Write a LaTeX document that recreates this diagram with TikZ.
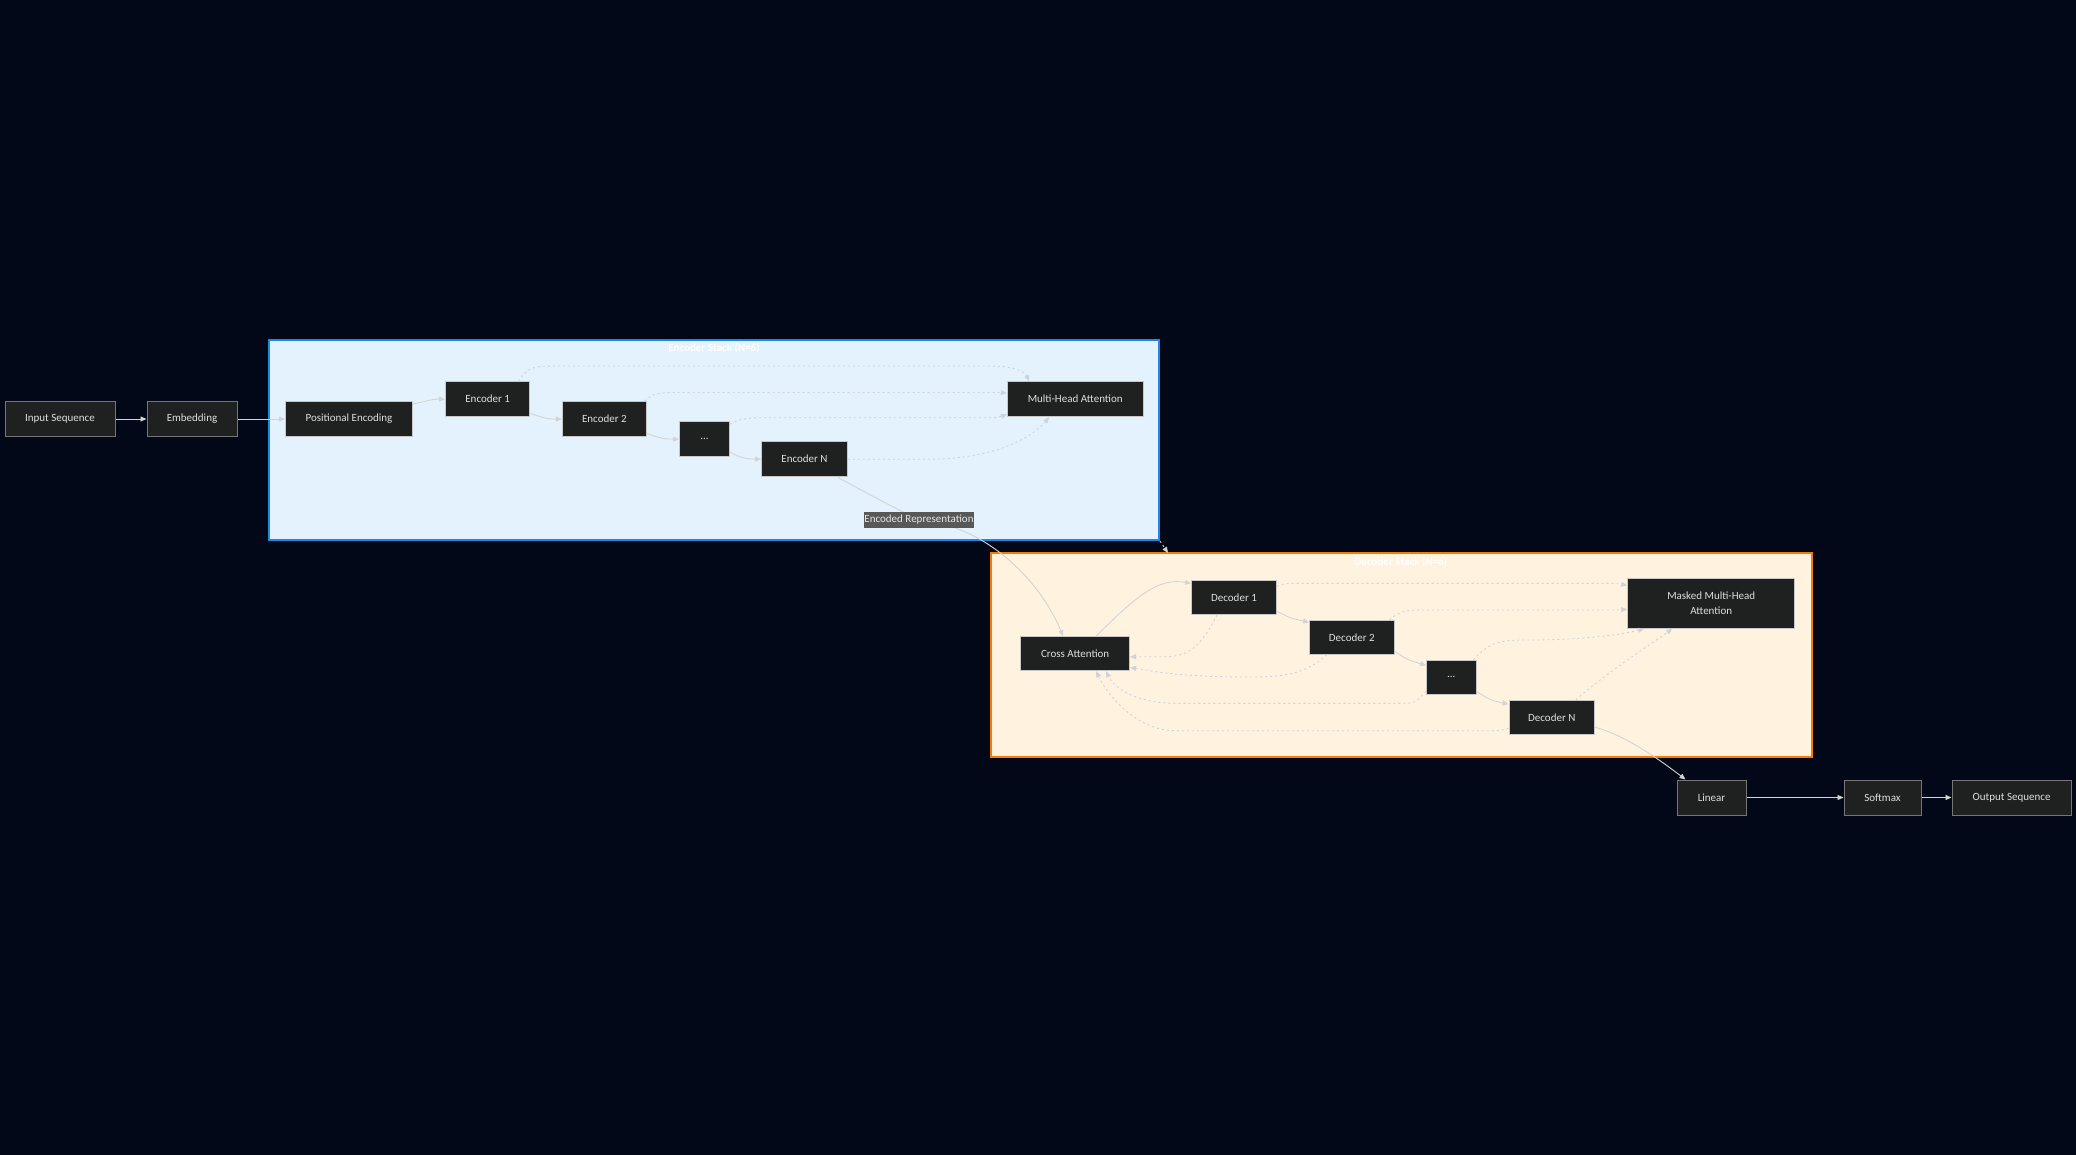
\documentclass[tikz,border=0pt]{standalone}
\usepackage{fontspec}
\setmainfont{Carlito}
\usepackage{xcolor}
\definecolor{bgnavy}{RGB}{2,8,23}
\definecolor{nodefill}{RGB}{31,32,32}
\definecolor{nodeline}{RGB}{200,200,200}
\definecolor{outline}{RGB}{118,118,118}
\definecolor{nodetext}{RGB}{222,222,222}
\definecolor{encfill}{RGB}{227,242,253}
\definecolor{encline}{RGB}{30,136,229}
\definecolor{decfill}{RGB}{255,243,224}
\definecolor{decline}{RGB}{245,124,0}
\definecolor{edgegray}{RGB}{212,212,212}
\definecolor{dotgray}{RGB}{205,211,218}
\definecolor{lblfill}{RGB}{88,88,88}
\usetikzlibrary{arrows.meta, positioning}

\tikzset{
  box/.style={draw=nodeline, fill=nodefill, text=nodetext, line width=1pt,
    font=\fontsize{11}{13}\selectfont, minimum height=35pt, inner sep=2pt},
  outbox/.style={box, draw=outline},
  stack/.style={line width=2pt, inner sep=0pt},
  stacktitle/.style={text=white, font=\fontsize{11}{13}\selectfont\bfseries},
  link/.style={draw=edgegray, line width=0.9pt, -{Triangle[length=6pt,width=5pt]}},
  dotlink/.style={link, draw=dotgray, dash pattern=on 2pt off 3pt},
  lbl/.style={fill=lblfill, text=white!90!black, font=\fontsize{11}{13}\selectfont,
    inner xsep=0pt, inner ysep=1pt, minimum height=16pt}
}

\begin{document}
\begin{tikzpicture}[x=1pt, y=-1pt]
  % Canvas
  \fill[bgnavy] (0,0) rectangle (2076,1155);
  \useasboundingbox (0,0) rectangle (2076,1155);

  % Stack panels
  \node[stack, draw=encline, fill=encfill, minimum width=890pt, minimum height=200pt] (encstack) at (714,440) {};
  \node[stack, draw=decline, fill=decfill, minimum width=821pt, minimum height=204pt] (decstack) at (1401.5,655) {};
  \node[stacktitle] (enctitle) at (714,348) {Encoder Stack (N=6)};
  \node[stacktitle] (dectitle) at (1401,562) {Decoder Stack (N=6)};

  % --- Input side ---
  \node[outbox, minimum width=110pt] (insq) at (60,419) {Input Sequence};
  \node[outbox, minimum width=90pt] (embed) at (192,419) {Embedding};

  % --- Encoder stack ---
  \node[box, minimum width=127pt] (posenc) at (349,419) {Positional Encoding};
  \node[box, minimum width=84.5pt] (encone) at (487.7,399.2) {Encoder 1};
  \node[box, minimum width=84pt] (enctwo) at (604.4,419.2) {Encoder 2};
  \node[box, minimum width=50pt] (encdots) at (704.6,439.2) {...};
  \node[box, minimum width=85.6pt] (encN) at (804.5,459.2) {Encoder N};
  \node[box, minimum width=135.6pt] (mha) at (1075.2,399.2) {Multi-Head Attention};

  % --- Decoder stack ---
  \node[box, minimum width=109pt, minimum height=34pt] (crossatt) at (1075.1,653.7) {Cross Attention};
  \node[box, minimum width=85pt, minimum height=34pt] (decone) at (1234,597.3) {Decoder 1};
  \node[box, minimum width=84.5pt, minimum height=34pt] (dectwo) at (1351.8,637.3) {Decoder 2};
  \node[box, minimum width=49.4pt, minimum height=34pt] (decdots) at (1451.3,677.3) {...};
  \node[box, minimum width=85.6pt, minimum height=34pt] (decN) at (1551.8,717.3) {Decoder N};
  \node[box, minimum width=167pt, minimum height=50pt, align=center] (mmha) at (1711.2,603.3) {Masked Multi-Head\\[2pt]Attention};

  % --- Output side ---
  \node[outbox, minimum width=69pt] (linear) at (1711.5,797.5) {Linear};
  \node[outbox, minimum width=77pt] (softmax) at (1882.5,797.5) {Softmax};
  \node[outbox, minimum width=119pt] (outsq) at (2011.5,797.5) {Output Sequence};

  % Straight links
  \draw[link] (insq) -- (embed);
  \draw[link] (embed) -- (posenc);
  \draw[link] (linear) -- (softmax);
  \draw[link] (softmax) -- (outsq);

  % Encoder chain
  \draw[link] ([yshift=15pt]posenc.east) .. controls (428,401) and (432,399) .. (encone.west);
  \draw[link] ([yshift=-14pt]encone.east) .. controls (545,419) and (550,419) .. (enctwo.west);
  \draw[link] ([yshift=-14pt]enctwo.east) .. controls (660,439) and (668,439) .. (encdots.west);
  \draw[link] ([yshift=-13pt]encdots.east) .. controls (742,459) and (750,459) .. (encN.west);

  % Encoder layers to attention
  \draw[dotlink] ([xshift=-12pt]encone.north east) .. controls (528,366) and (535,366) .. (560,366)
    -- (990,366) .. controls (1015,366) and (1025,372) .. ([xshift=-46pt]mha.north);
  \draw[dotlink] ([xshift=-2pt]enctwo.north east) .. controls (652,393) and (660,392.5) .. (680,392.5)
    -- (990,392.5) .. controls (1000,392.5) .. ([yshift=6pt]mha.west);
  \draw[dotlink] ([yshift=-3pt]encdots.north east) .. controls (740,418) and (750,417.7) .. (770,417.7)
    -- (990,417.7) .. controls (1000,417) .. ([yshift=-15pt]mha.west);
  \draw[dotlink] (encN.east) -- (930,459.2) .. controls (990,459) and (1030,440) .. ([xshift=-26pt]mha.south);

  % Encoder output into decoder
  \draw[link] ([xshift=-10pt]encN.south east) .. controls (870,495) .. (919,520)
    node[lbl] (encrep) {Encoded Representation}
    .. controls (985,525) and (1040,580) .. ([xshift=-12pt]crossatt.north);
  \coordinate (dectop) at (1168,553);
  \draw[dotlink, draw=edgegray] (encstack.south east) -- (dectop);

  % Decoder chain
  \draw[link] ([xshift=21pt]crossatt.north) .. controls (1140,592) and (1160,578) .. ([yshift=14pt]decone.west);
  \draw[link] ([yshift=-14pt]decone.east) .. controls (1290,618) .. ([yshift=15pt]dectwo.west);
  \draw[link] ([yshift=-14pt]dectwo.east) .. controls (1408,660) .. ([yshift=12pt]decdots.west);
  \draw[link] ([yshift=-14pt]decdots.east) .. controls (1490,700) .. ([yshift=13pt]decN.west);

  % Decoder layers to masked attention
  \draw[dotlink] ([yshift=11pt]decone.east) .. controls (1285,583.3) .. (1300,583.3)
    -- (1600,583.3) .. controls (1615,583.3) .. ([yshift=18pt]mmha.west);
  \draw[dotlink] ([xshift=-5pt]dectwo.north east) .. controls (1400,610) and (1410,610) .. (1425,610)
    -- (1600,610) .. controls (1615,610) .. ([yshift=-6pt]mmha.west);
  \draw[dotlink] ([xshift=-3pt]decdots.north east) .. controls (1490,640) and (1505,640) .. (1530,640)
    .. controls (1580,640) and (1620,635) .. ([xshift=-67pt]mmha.south);
  \draw[dotlink] ([xshift=24pt]decN.north) .. controls (1610,670) and (1650,645) .. ([xshift=-39pt]mmha.south);

  % Decoder layers back to cross attention
  \draw[dotlink] ([xshift=-17pt]decone.south) .. controls (1200,650) and (1185,656.7) .. (1165,656.7)
    -- ([yshift=-3pt]crossatt.east);
  \draw[dotlink] ([xshift=-25pt]dectwo.south) .. controls (1305,675) and (1280,677) .. (1250,677)
    .. controls (1170,677) and (1150,670) .. ([yshift=-14pt]crossatt.east);
  \draw[dotlink] ([yshift=-14pt]decdots.west) .. controls (1415,703.3) .. (1400,703.3)
    -- (1175,703.3) .. controls (1140,703.3) and (1115,690) .. ([xshift=31pt]crossatt.south);
  \draw[dotlink] ([yshift=-11pt]decN.west) .. controls (1500,730.7) .. (1490,730.7)
    -- (1175,730.7) .. controls (1140,730.7) and (1110,700) .. ([xshift=21pt]crossatt.south);

  % Decoder output
  \draw[link] ([yshift=-10pt]decN.east) .. controls (1625,735) and (1660,760) .. ([xshift=-26pt]linear.north);
\end{tikzpicture}
\end{document}
